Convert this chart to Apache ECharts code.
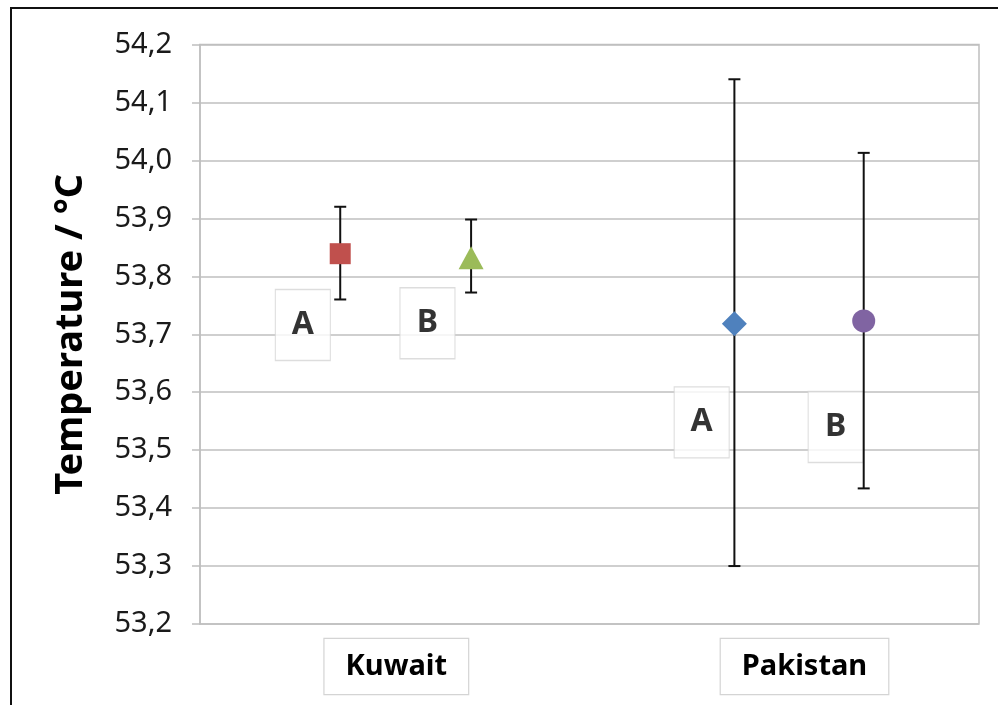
<!DOCTYPE html>
<html>
<head>
<meta charset="utf-8">
<script src="https://cdn.jsdelivr.net/npm/echarts@6/dist/echarts.min.js"></script>
<style>
  html, body { margin: 0; padding: 0; background: #fff; }
  #chart { width: 998px; height: 705px; }
  #frame { position: absolute; left: 10px; top: 7px; width: 988px; height: 698px;
           border-top: 2px solid #111; border-left: 2px solid #111; pointer-events: none; box-sizing: border-box; }
</style>
</head>
<body>
<div id="chart"></div>
<div id="frame"></div>
<script>
// ---- data ----
const groups = ['Kuwait', 'Pakistan'];
const groupLabelX = [1.26, 3.88];
const seriesNames = ['Kuwait A', 'Kuwait B', 'Pakistan A', 'Pakistan B'];
const xPos = [0.90, 1.74, 3.43, 4.26];
const means = [53.839, 53.832, 53.718, 53.723];
const lower = [53.760, 53.772, 53.300, 53.434];
const upper = [53.920, 53.898, 54.140, 54.013];
const sampleLabels = ['A', 'B', 'A', 'B'];
const sampleLabelX = [0.66, 1.46, 3.22, 4.08];
const sampleLabelY = [53.716, 53.719, 53.548, 53.540];
const yMin = 53.2, yMax = 54.2, yStep = 0.1;
const yTitle = 'Temperature / °C';

// ---- styles ----
const colors = ['#c0504d', '#9bbb59', '#4f81bd', '#8064a2'];
const symbols = ['rect', 'triangle', 'diamond', 'circle'];
const sizes = [21, [25, 23], [25, 25], 23];
const FONT = 'Noto Sans';
const GRID = '#bfbfbf';

const chart = echarts.init(document.getElementById('chart'));

const series = [];
// label boxes (A / B)
series.push({
  type: 'scatter',
  z: 2,
  symbol: 'rect',
  symbolSize: [55, 71],
  itemStyle: { color: '#fff', borderColor: '#d4d4d4', borderWidth: 1.2 },
  label: { show: true, position: 'inside', formatter: p => sampleLabels[p.dataIndex],
           fontFamily: FONT, fontWeight: 'bold', fontSize: 32, color: '#000',
           textBorderWidth: 0 },
  silent: true,
  data: sampleLabelX.map((x, i) => [x, sampleLabelY[i]])
});
// error bars
series.push({
  type: 'custom',
  z: 3,
  data: xPos.map((x, i) => [x, lower[i], upper[i]]),
  renderItem: function (params, api) {
    const x = api.value(0);
    const lo = api.coord([x, api.value(1)]);
    const hi = api.coord([x, api.value(2)]);
    const hw = 6;
    const st = { stroke: '#111', lineWidth: 2 };
    return {
      type: 'group',
      children: [
        { type: 'line', shape: { x1: lo[0], y1: lo[1], x2: hi[0], y2: hi[1] }, style: st },
        { type: 'line', shape: { x1: hi[0] - hw, y1: hi[1], x2: hi[0] + hw, y2: hi[1] }, style: st },
        { type: 'line', shape: { x1: lo[0] - hw, y1: lo[1], x2: lo[0] + hw, y2: lo[1] }, style: st }
      ]
    };
  }
});
// markers
seriesNames.forEach((name, i) => {
  series.push({
    name: name,
    type: 'scatter',
    z: 4,
    symbol: symbols[i],
    symbolSize: sizes[i],
    itemStyle: { color: colors[i], opacity: 1 },
    data: [[xPos[i], means[i]]]
  });
});

chart.setOption({
  animation: false,
  backgroundColor: '#fff',
  grid: { left: 200, right: 19, top: 44.5, bottom: 81, show: true, borderColor: GRID, borderWidth: 1.5 },
  xAxis: {
    type: 'value', min: 0, max: 5,
    axisLine: { show: false }, axisTick: { show: false }, splitLine: { show: false },
    axisLabel: {
      customValues: groupLabelX,
      formatter: function (v) {
        const i = groupLabelX.findIndex(g => Math.abs(g - v) < 1e-6);
        return i >= 0 ? groups[i] : '';
      },
      margin: 15,
      fontFamily: FONT, fontWeight: 'bold', fontSize: 29, color: '#000',
      backgroundColor: '#fff', borderColor: '#d4d4d4', borderWidth: 1.2,
      padding: [13, 21, 13, 21]
    }
  },
  yAxis: {
    type: 'value', min: yMin, max: yMax, interval: yStep,
    name: yTitle, nameLocation: 'middle', nameGap: 110, nameRotate: 90,
    nameTextStyle: { fontFamily: FONT, fontWeight: 'bold', fontSize: 38, color: '#000' },
    axisLine: { show: true, lineStyle: { color: GRID, width: 1.5 } },
    axisTick: { show: true, length: 8, lineStyle: { color: GRID, width: 1.5 } },
    splitLine: { show: true, lineStyle: { color: GRID, width: 1.5 } },
    axisLabel: {
      margin: 28,
      fontFamily: FONT, fontSize: 29, color: '#1a1a1a',
      formatter: v => v.toFixed(1).replace('.', ',')
    }
  },
  series: series
});
</script>
</body>
</html>
